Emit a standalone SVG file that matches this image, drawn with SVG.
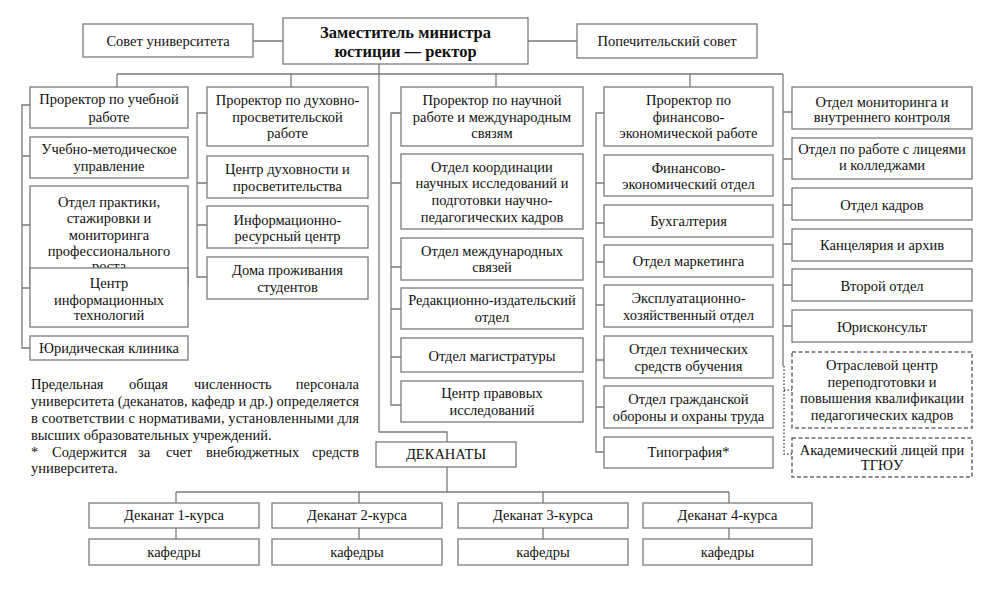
<svg xmlns="http://www.w3.org/2000/svg" width="986" height="598" viewBox="0 0 986 598">
<style>
.b{fill:#fff;stroke:#7a7a7a;stroke-width:1.3}
.d{fill:#fff;stroke:#6a6a6a;stroke-width:1.5;stroke-dasharray:4,2.5}
.c{fill:none;stroke:#7a7a7a;stroke-width:1.3}
.dot{fill:none;stroke:#555;stroke-width:1.5;stroke-dasharray:1.5,2}
text{font-family:"Liberation Serif","Times New Roman",serif;font-size:14.5px;fill:#111;text-anchor:middle}
.r{font-weight:bold;font-size:16.5px}
.n{text-anchor:start}
.e{text-anchor:end}
</style>
<rect width="986" height="598" fill="#fff"/>
<g id="connectors">
<path class="c" d="M253 41H283M528 41H577"/>
<path class="c" d="M379 64V432H447V442M447 467V492M117 74H783M117 74V87M291 74V87M496 74V87M690 74V87"/>
<path class="c" d="M176 492H729M176 492V503M359 492V503M543 492V503M729 492V503M176 528V539M359 528V539M543 528V539M729 528V539"/>
<path class="c" d="M30 105H22V348H30M22 156H30M22 225H30M22 288H30"/>
<path class="c" d="M207 113H197V277H207M197 183H207M197 225H207"/>
<path class="c" d="M401 113H391V405H401M391 183H401M391 267H401M391 309H401M391 357H401"/>
<path class="c" d="M604 113H596V452H604M596 183H604M596 223H604M596 262H604M596 305H604M596 360H604M596 407H604"/>
<path class="c" d="M783 74V366M783 112H792M783 159H792M783 205H792M783 244H792M783 285H792M783 326H792"/>
<path class="dot" d="M784 366V454H792M784 390H792"/>
</g>
<g id="sovet"><rect class="b" x="83" y="24" width="170" height="33"/><text x="168" y="46">Совет университета</text></g>
<g id="rector"><rect class="b" x="283" y="18" width="245" height="46"/><text class="r" x="405.5" y="38">Заместитель министра</text><text class="r" x="405.5" y="57">юстиции — ректор</text></g>
<g id="popech"><rect class="b" x="577" y="24" width="180" height="34"/><text x="667" y="46">Попечительский совет</text></g>

<g id="c1n1"><rect class="b" x="30" y="87" width="158" height="41"/><text x="109" y="104">Проректор по учебной</text><text x="109" y="122">работе</text></g>
<g id="c1n2"><rect class="b" x="30" y="137" width="158" height="41"/><text x="109" y="154">Учебно-методическое</text><text x="109" y="171">управление</text></g>
<g id="c1n3"><rect class="b" x="30" y="186" width="158" height="100"/><text x="109" y="207">Отдел практики,</text><text x="109" y="223">стажировки и</text><text x="109" y="240">мониторинга</text><text x="109" y="256">профессионального</text><text x="109" y="271">роста</text></g>
<g id="c1n4"><rect class="b" x="30" y="268" width="158" height="59"/><text x="109" y="288">Центр</text><text x="109" y="305">информационных</text><text x="109" y="320">технологий</text></g>
<g id="c1n5"><rect class="b" x="30" y="336" width="158" height="24"/><text x="109" y="353">Юридическая клиника</text></g>

<g id="c2n1"><rect class="b" x="207" y="87" width="161" height="59"/><text x="287.5" y="105">Проректор по духовно-</text><text x="287.5" y="122">просветительской</text><text x="287.5" y="138">работе</text></g>
<g id="c2n2"><rect class="b" x="207" y="156" width="161" height="42"/><text x="287.5" y="174">Центр духовности и</text><text x="287.5" y="191">просветительства</text></g>
<g id="c2n3"><rect class="b" x="207" y="206" width="161" height="42"/><text x="287.5" y="225">Информационно-</text><text x="287.5" y="241">ресурсный центр</text></g>
<g id="c2n4"><rect class="b" x="207" y="257" width="161" height="42"/><text x="287.5" y="275">Дома проживания</text><text x="287.5" y="292">студентов</text></g>

<g id="c3n1"><rect class="b" x="401" y="87" width="182" height="59"/><text x="492" y="105">Проректор по научной</text><text x="492" y="122">работе и международным</text><text x="492" y="138">связям</text></g>
<g id="c3n2"><rect class="b" x="401" y="154" width="182" height="75"/><text x="492" y="172">Отдел координации</text><text x="492" y="188">научных исследований и</text><text x="492" y="205">подготовки научно-</text><text x="492" y="222">педагогических кадров</text></g>
<g id="c3n3"><rect class="b" x="401" y="238" width="182" height="42"/><text x="492" y="256">Отдел международных</text><text x="492" y="272">связей</text></g>
<g id="c3n4"><rect class="b" x="401" y="288" width="182" height="41"/><text x="492" y="305">Редакционно-издательский</text><text x="492" y="322">отдел</text></g>
<g id="c3n5"><rect class="b" x="401" y="338" width="182" height="34"/><text x="492" y="361">Отдел магистратуры</text></g>
<g id="c3n6"><rect class="b" x="401" y="381" width="182" height="41"/><text x="492" y="398">Центр правовых</text><text x="492" y="415">исследований</text></g>

<g id="c4n1"><rect class="b" x="604" y="87" width="169" height="59"/><text x="688.5" y="105">Проректор по</text><text x="688.5" y="122">финансово-</text><text x="688.5" y="138">экономической работе</text></g>
<g id="c4n2"><rect class="b" x="604" y="155" width="169" height="41"/><text x="688.5" y="173">Финансово-</text><text x="688.5" y="189">экономический отдел</text></g>
<g id="c4n3"><rect class="b" x="604" y="205" width="169" height="32"/><text x="688.5" y="226">Бухгалтерия</text></g>
<g id="c4n4"><rect class="b" x="604" y="245" width="169" height="32"/><text x="688.5" y="266">Отдел маркетинга</text></g>
<g id="c4n5"><rect class="b" x="604" y="285" width="169" height="42"/><text x="688.5" y="303">Эксплуатационно-</text><text x="688.5" y="320">хозяйственный отдел</text></g>
<g id="c4n6"><rect class="b" x="604" y="336" width="169" height="42"/><text x="688.5" y="354">Отдел технических</text><text x="688.5" y="371">средств обучения</text></g>
<g id="c4n7"><rect class="b" x="604" y="386" width="169" height="42"/><text x="688.5" y="404">Отдел гражданской</text><text x="688.5" y="421">обороны и охраны труда</text></g>
<g id="c4n8"><rect class="b" x="604" y="437" width="169" height="31"/><text x="688.5" y="457">Типография*</text></g>

<g id="c5n1"><rect class="b" x="792" y="87" width="180" height="42"/><text x="882" y="107">Отдел мониторинга и</text><text x="882" y="122">внутреннего контроля</text></g>
<g id="c5n2"><rect class="b" x="792" y="138" width="180" height="41"/><text x="882" y="154">Отдел по работе с лицеями</text><text x="882" y="170">и колледжами</text></g>
<g id="c5n3"><rect class="b" x="792" y="188" width="180" height="32"/><text x="882" y="210">Отдел кадров</text></g>
<g id="c5n4"><rect class="b" x="792" y="229" width="180" height="32"/><text x="882" y="250">Канцелярия и архив</text></g>
<g id="c5n5"><rect class="b" x="792" y="269" width="180" height="32"/><text x="882" y="291">Второй отдел</text></g>
<g id="c5n6"><rect class="b" x="792" y="310" width="180" height="32"/><text x="882" y="332">Юрисконсульт</text></g>
<g id="c5n7"><rect class="d" x="792" y="352" width="180" height="76"/><text x="882" y="370">Отраслевой центр</text><text x="882" y="387">переподготовки и</text><text x="882" y="403">повышения квалификации</text><text x="882" y="420">педагогических кадров</text></g>
<g id="c5n8"><rect class="d" x="792" y="438" width="180" height="39"/><text x="882" y="455">Академический лицей при</text><text x="882" y="470">ТГЮУ</text></g>

<g id="dekanaty"><rect class="b" x="376" y="442" width="140" height="25"/><text x="446" y="459">ДЕКАНАТЫ</text></g>
<g id="dek1"><rect class="b" x="89" y="503" width="170" height="25"/><text x="174" y="520">Деканат 1-курса</text></g>
<g id="dek2"><rect class="b" x="272" y="503" width="170" height="25"/><text x="357" y="520">Деканат 2-курса</text></g>
<g id="dek3"><rect class="b" x="458" y="503" width="170" height="25"/><text x="543" y="520">Деканат 3-курса</text></g>
<g id="dek4"><rect class="b" x="643" y="503" width="169" height="25"/><text x="727.5" y="520">Деканат 4-курса</text></g>
<g id="kaf1"><rect class="b" x="89" y="539" width="170" height="26"/><text x="174" y="557">кафедры</text></g>
<g id="kaf2"><rect class="b" x="272" y="539" width="170" height="26"/><text x="357" y="557">кафедры</text></g>
<g id="kaf3"><rect class="b" x="458" y="539" width="170" height="26"/><text x="543" y="557">кафедры</text></g>
<g id="kaf4"><rect class="b" x="643" y="539" width="169" height="26"/><text x="727.5" y="557">кафедры</text></g>

<g id="note">
<text class="n" x="31" y="389">Предельная</text><text class="n" x="129" y="389">общая</text><text class="n" x="194" y="389">численность</text><text class="e" x="359" y="389">персонала</text>
<text class="n" x="31" y="406" textLength="328" lengthAdjust="spacing">университета (деканатов, кафедр и др.) определяется</text>
<text class="n" x="31" y="423" textLength="328" lengthAdjust="spacing">в соответствии с нормативами, установленными для</text>
<text class="n" x="31" y="440">высших образовательных учреждений.</text>
<text class="n" x="31" y="457">*</text><text class="n" x="52" y="457">Содержится</text><text class="n" x="138" y="457">за</text><text class="n" x="166" y="457">счет</text><text class="n" x="206" y="457">внебюджетных</text><text class="e" x="359" y="457">средств</text>
<text class="n" x="31" y="473">университета.</text>
</g>
</svg>
